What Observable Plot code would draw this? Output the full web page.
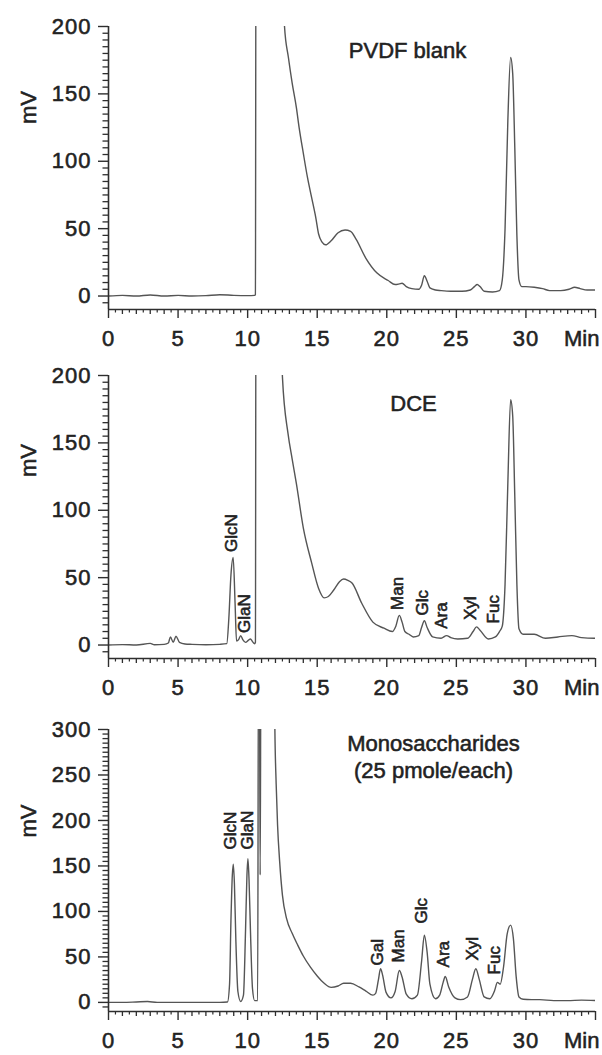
<!DOCTYPE html>
<html><head><meta charset="utf-8">
<script src="https://cdn.jsdelivr.net/npm/d3@7"></script>
<script src="https://cdn.jsdelivr.net/npm/@observablehq/plot@0.6"></script>
<style>
body{margin:0;background:#fff;}
#chart svg{display:block;}
#chart text{stroke:#222;stroke-width:0.55px;paint-order:stroke;}
#chart g[aria-label="x-axis tick label"], #chart g[aria-label="y-axis tick label"], #chart g[aria-label="title"], #chart g[aria-label="unit"] {letter-spacing:1px;}
</style></head><body><div id="chart"></div>
<script>
// ---- data (minutes, mV) ----
const blankTrace = [[0,0],[1,0.5],[2,0],[3,0.8],[4,0],[5,0.5],[6,0],[7,0.3],[8,1],[9,0.5],[10,0.3],[10.5,0.5],[10.56,1],[10.6,300],[12.45,300],[12.65,200],[12.93,177],[13.2,158],[13.5,140],[13.7,125],[14.0,106],[14.3,88],[14.6,73],[14.9,58],[15.1,46],[15.35,40],[15.6,38],[16.0,41],[16.5,47],[17.0,49],[17.4,48],[17.8,42],[18.5,28],[19.3,17],[20.1,11.5],[20.6,8.5],[20.9,9],[21.1,9.5],[21.4,7],[21.8,5.5],[22.3,5],[22.5,8],[22.7,15],[22.9,11],[23.1,6],[23.5,4.5],[23.9,4],[24.6,3.5],[25.4,3.5],[26.0,4.5],[26.3,7],[26.5,8.5],[26.7,7],[27.0,3.5],[27.6,3],[28.1,4],[28.3,12],[28.5,50],[28.7,130],[28.9,177],[29.05,165],[29.2,110],[29.35,45],[29.5,12],[29.7,7],[30.0,7],[30.6,6.5],[31.2,5.5],[31.7,4],[32.5,4],[33.1,5],[33.5,6.5],[33.9,5.5],[34.4,4.5],[35,4.5]];

const dceTrace = [[0,0],[1,0.3],[2,0],[3,1.2],[3.3,0.2],[4,0.5],[4.3,1.5],[4.45,6],[4.65,2],[4.85,6.5],[5.1,2],[5.5,0.8],[6,0.5],[7,0.2],[8,0.5],[8.5,1],[8.65,20],[8.8,52],[8.96,65],[9.1,30],[9.2,3],[9.35,4],[9.5,7],[9.65,4],[9.85,2],[10.05,3.5],[10.2,4.5],[10.35,2.5],[10.5,1],[10.56,2],[10.6,300],[12.35,300],[12.5,199],[12.9,157],[13.2,138],[13.5,120],[14.0,87],[14.6,61],[15.1,42],[15.5,35],[15.8,36],[16.2,41],[16.6,47],[16.9,49],[17.2,48],[17.5,46],[18.2,31],[19.0,17],[19.8,12.5],[20.4,10],[20.65,14],[20.9,22],[21.1,17],[21.3,10],[21.6,8],[21.9,6],[22.3,7],[22.5,13],[22.7,18],[22.9,13],[23.3,6],[23.9,5],[24.3,7],[24.6,5.5],[25.1,4.5],[25.8,5],[26.2,10],[26.45,13.5],[26.7,11],[27.3,4.5],[27.8,6],[28.1,10],[28.3,14],[28.5,45],[28.7,120],[28.9,182],[29.05,170],[29.2,110],[29.35,45],[29.5,12],[29.8,8],[30.6,8],[31.4,5],[32.3,6],[33.3,7],[34.0,5.5],[34.9,5],[35,5]];

const monoTrace = [[0,0],[1,0],[2,0.5],[2.8,1],[3.5,0],[4.5,0],[6,0],[7,0],[8,0],[8.55,0.5],[8.7,20],[8.8,90],[8.9,140],[8.97,152],[9.05,130],[9.15,70],[9.3,12],[9.5,1],[9.7,8],[9.85,80],[9.95,140],[10.02,158],[10.1,135],[10.2,80],[10.35,15],[10.5,2],[10.72,2],[10.78,400],[10.84,400],[10.9,140],[10.96,400],[11.9,400],[11.95,310],[12.05,240],[12.15,195],[12.3,155],[12.5,118],[12.8,92],[13.2,76],[13.6,63],[14.0,51],[14.5,39],[15.0,29],[15.5,21],[16.0,16.5],[16.5,18],[16.9,21],[17.4,21],[18.0,17],[18.5,12.5],[19.0,8],[19.2,10],[19.4,25],[19.55,37],[19.7,30],[19.95,11],[20.3,5],[20.6,12],[20.9,35],[21.1,28],[21.4,9],[21.8,4],[22.2,8],[22.5,45],[22.7,74],[22.9,55],[23.1,20],[23.5,4],[23.8,8],[24.05,22],[24.2,28.5],[24.45,17],[24.9,5],[25.3,3],[25.8,6],[26.15,25],[26.4,37],[26.65,25],[27.0,6],[27.4,4],[27.75,13],[27.95,22],[28.15,20],[28.4,40],[28.65,75],[28.9,85],[29.1,70],[29.3,28],[29.5,6],[29.8,3.5],[30.4,3],[31,3],[32,2],[33,2],[34,2.5],[35,2]];

// peak labels: name, retention time (min), mV where the label starts
const dceLabelNames = ["GlcN","GlaN","Man","Glc","Ara","Xyl","Fuc"];
const dceLabelTimes = [8.85, 9.8, 20.77, 22.57, 23.95, 26.05, 27.67];
const dceLabelLevels = [69, 9, 26, 22, 12, 18.5, 16];

const monoLabelNames = ["GlcN","GlaN","Gal","Man","Glc","Ara","Xyl","Fuc"];
const monoLabelTimes = [8.74, 10.0, 19.33, 20.84, 22.5, 24.08, 26.16, 27.74];
const monoLabelLevels = [168, 168, 40.7, 44, 86.8, 38.5, 46, 30.8];

const titles = ["PVDF blank", "DCE", "Monosaccharides\n(25 pmole/each)"];
const xTickLabels = [0, 5, 10, 15, 20, 25, 30];
const yTicks200 = [0, 50, 100, 150, 200];
const yTicks300 = [0, 50, 100, 150, 200, 250, 300];
const unitY = "mV";
const unitX = "Min";

// ---- drawing ----
const FONT = "'Liberation Sans', Arial, Helvetica, sans-serif";
const AX = "#2e2e2e";
const LINE = "#555";
const W = 602, ML = 108, MR = 7;

function labelsOf(names, times, levels) {
  return names.map((name, i) => ({name, t: times[i], v: levels[i]}));
}

function panel(cfg) {
  const data = cfg.trace.map(([t, v]) => ({t, v}));
  const yMin = -10, yMax = cfg.yMax;
  const pxPerMin = (W - ML - MR) / 35;
  const pxPerMv = (cfg.height - cfg.mt - cfg.mb) / (yMax - yMin);
  const yMinor = d3.range(-5, yMax, 5).filter(d => d % 50 !== 0);
  const xInt = d3.range(1, 35).filter(d => d % 5 !== 0);
  const xHalf = d3.range(0.5, 35, 1);
  const tickY = px => yMin - px / pxPerMv;   // tick end below the x axis line
  const marks = [
    Plot.line(data, {x: "t", y: "v", stroke: LINE, strokeWidth: 1.4, curve: "monotone-x", clip: true}),
    // minor ticks
    Plot.ruleY(yMinor, {y: d => d, x1: -5.5 / pxPerMin, x2: 0, stroke: AX, strokeWidth: 1.3}),
    Plot.ruleX(xInt, {x: d => d, y1: yMin, y2: tickY(5), stroke: AX, strokeWidth: 1.3}),
    Plot.ruleX(xHalf, {x: d => d, y1: yMin, y2: tickY(3.5), stroke: AX, strokeWidth: 1.2}),
    Plot.ruleX([35], {x: d => d, y1: yMin, y2: tickY(9), stroke: AX, strokeWidth: 1.4}),
    // axis lines
    Plot.ruleX([0], {y1: yMin, y2: yMax, stroke: AX, strokeWidth: 1.6}),
    Plot.ruleY([yMin], {x1: 0, x2: 35, stroke: AX, strokeWidth: 1.6}),
    Plot.axisY({ticks: cfg.yTicks, tickSize: 10, tickPadding: 7, fontSize: 22, label: null, stroke: AX, strokeWidth: 1.4, tickFormat: d => String(d)}),
    Plot.axisX({ticks: xTickLabels, tickSize: 9, tickPadding: 12, fontSize: 22, label: null, stroke: AX, strokeWidth: 1.4, tickFormat: d => String(d)}),
    Plot.text([unitX], {frameAnchor: "bottom-right", textAnchor: "end", lineAnchor: "top", dx: 4, dy: 21, fontSize: 22, fill: "#222", ariaLabel: "unit"}),
    Plot.text([unitY], {frameAnchor: "left", dx: -80, dy: cfg.mvDy, rotate: -90, fontSize: 22, fill: "#222"}),
    Plot.text([cfg.title], {frameAnchor: "top", dx: cfg.titleDx, dy: cfg.titleDy, lineAnchor: "middle", lineHeight: 1.23, fontSize: 22, fill: "#222", ariaLabel: "title"})
  ];
  if (cfg.labels) {
    marks.push(Plot.text(cfg.labels, {x: "t", y: "v", text: "name", rotate: -90, textAnchor: "start", lineAnchor: "middle", fontSize: 17, fill: "#222"}));
  }
  return Plot.plot({
    width: W, height: cfg.height,
    marginLeft: ML, marginRight: MR, marginTop: cfg.mt, marginBottom: cfg.mb,
    style: {fontFamily: FONT, color: "#222", background: "#fff", overflow: "visible"},
    x: {domain: [0, 35]},
    y: {domain: [yMin, yMax]},
    marks
  });
}

const chart = document.getElementById("chart");
chart.append(panel({trace: blankTrace, title: titles[0], yMax: 200, yTicks: yTicks200, height: 350, mt: 26, mb: 41, mvDy: -44, titleDx: 55.5, titleDy: 22.5, labels: null}));
chart.append(panel({trace: dceTrace, title: titles[1], yMax: 200, yTicks: yTicks200, height: 350, mt: 25, mb: 42, mvDy: -40, titleDx: 61.5, titleDy: 27, labels: labelsOf(dceLabelNames, dceLabelTimes, dceLabelLevels)}));
chart.append(panel({trace: monoTrace, title: titles[2], yMax: 300, yTicks: yTicks300, height: 355, mt: 29, mb: 44, mvDy: -33, titleDx: 81.5, titleDy: 26, labels: labelsOf(monoLabelNames, monoLabelTimes, monoLabelLevels)}));
</script></body></html>
